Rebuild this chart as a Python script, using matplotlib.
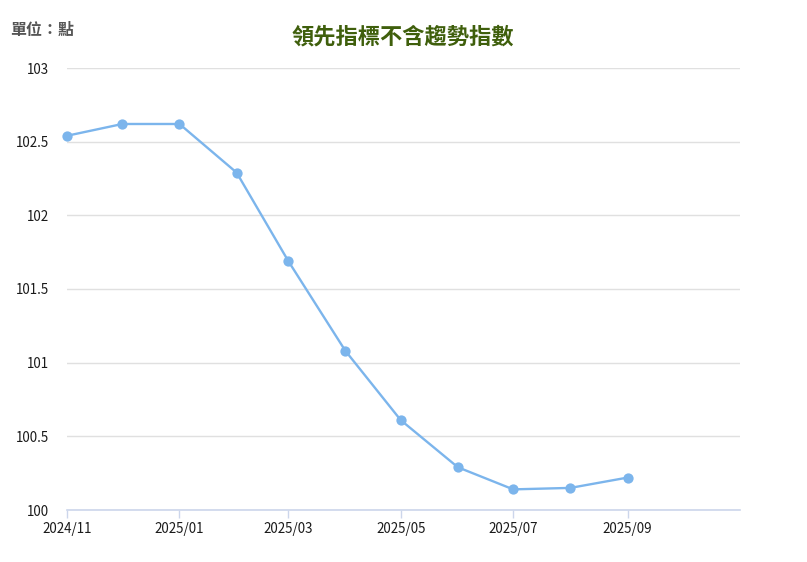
import matplotlib
matplotlib.use("Agg")
import matplotlib.pyplot as plt
import matplotlib.dates as mdates
import numpy as np
from datetime import datetime

plt.rcParams['font.family'] = ['Noto Sans CJK TC', 'DejaVu Sans']

title = "領先指標不含趨勢指數"
unit_label = "單位：點"
months = ["2024/11", "2024/12", "2025/01", "2025/02", "2025/03", "2025/04",
          "2025/05", "2025/06", "2025/07", "2025/08", "2025/09"]
values = [102.54, 102.62, 102.62, 102.29, 101.69, 101.08,
          100.61, 100.29, 100.14, 100.15, 100.22]
y_ticks = [100, 100.5, 101, 101.5, 102, 102.5, 103]
y_tick_labels = ["100", "100.5", "101", "101.5", "102", "102.5", "103"]

dates = [datetime.strptime(m, "%Y/%m") for m in months]

W, H = 807, 562
fig = plt.figure(figsize=(W / 100, H / 100), dpi=100)
ax = fig.add_axes([67 / W, 1 - 510 / H, (740 - 67) / W, (510 - 68) / H])

line_color = "#7cb5ec"
ax.plot(dates, values, color=line_color, lw=1.7, marker="o", ms=7.4,
        markeredgewidth=0, zorder=3, clip_on=False)

ax.set_xlim(datetime(2024, 11, 1), datetime(2025, 11, 1))
ax.set_ylim(100, 103)
ax.set_yticks(y_ticks)
ax.set_yticklabels(y_tick_labels)

ax.xaxis.set_major_locator(mdates.MonthLocator(bymonth=[1, 3, 5, 7, 9, 11]))
ax.xaxis.set_major_formatter(mdates.DateFormatter("%Y/%m"))
ax.set_xticks([d for d in ax.get_xticks() if d < mdates.date2num(datetime(2025, 10, 1))])

ax.grid(axis="y", color="#e0e0e0", lw=1)
ax.set_axisbelow(True)
for s in ["top", "right", "left"]:
    ax.spines[s].set_visible(False)
ax.spines["bottom"].set_color("#ccd6eb")
ax.spines["bottom"].set_linewidth(1.2)

ax.tick_params(axis="y", length=0, pad=13, labelsize=9.6, labelcolor="#1a1a1a")
ax.tick_params(axis="x", length=6, width=1, color="#ccd6eb", pad=3,
               labelsize=9.6, labelcolor="#1a1a1a")

fig.text(403 / W, 1 - 37 / H, title, ha="center", va="center",
         fontsize=16, fontweight="bold", color="#3f5f0c")
fig.text(10 / W, 1 - 30 / H, unit_label, ha="left", va="center",
         fontsize=11.5, fontweight="bold", color="#555555")

fig.savefig("out.png", dpi=100)
